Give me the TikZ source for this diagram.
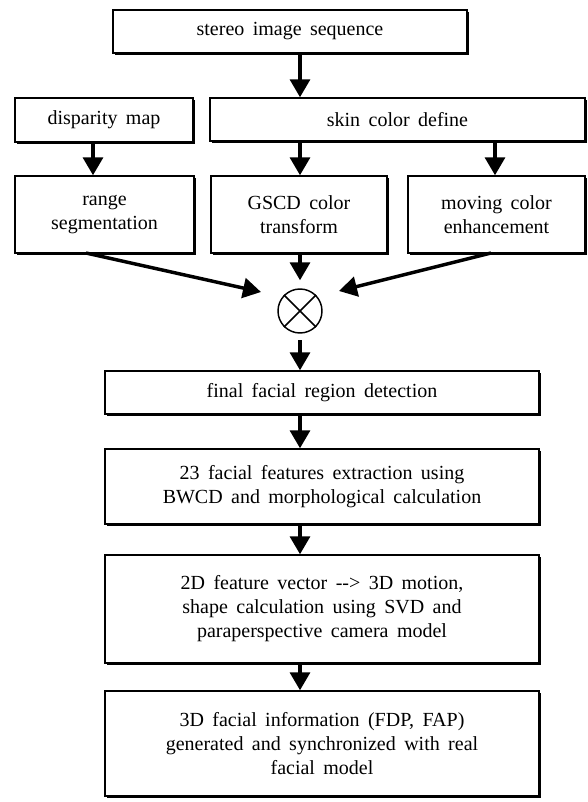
\documentclass[tikz,border=0pt]{standalone}
\usepackage{fontspec}
\setmainfont{Liberation Serif}
\usetikzlibrary{arrows.meta,shadows}
\newcommand\boxfont{\fontsize{15}{18}\selectfont\spaceskip=0.42em plus 0.1em\relax}
\tikzset{
  box/.style={draw, line width=1.1pt, fill=white, rectangle, align=center, inner sep=2pt,
    drop shadow={shadow xshift=1.8pt, shadow yshift=-1.8pt, fill=black, opacity=1},
    font=\boxfont},
  flow/.style={line width=2.6pt, -{Triangle[width=15pt,length=13.5pt]}},
  mulnode/.style={draw, circle, line width=1.1pt, minimum size=33pt, inner sep=0pt}
}
\begin{document}
\begin{tikzpicture}[x=0.75pt,y=-0.75pt]
\useasboundingbox[fill=white] (0,0) rectangle (588,802);
% top
\node[box, minimum width=265.5pt, minimum height=32.25pt] (stereo) at (290,31.5) {stereo image sequence};
\node[box, minimum width=133.5pt, minimum height=33pt] (disp) at (104,120) {disparity map};
\node[box, minimum width=281.25pt, minimum height=32.25pt] (skin) at (397.5,119.5) {skin color define};
% second row
\node[box, minimum width=134.25pt, minimum height=57.75pt] (range) at (104.5,214.5) {range\\segmentation};
\node[box, minimum width=132pt, minimum height=57.75pt] (gscd) at (299,214.5) {GSCD color\\transform};
\node[box, minimum width=132.75pt, minimum height=57.75pt] (moving) at (496.5,214.5) {moving color\\enhancement};
% combiner
\node[mulnode] (mul) at (300,311) {};
\draw[line width=1.1pt] (mul.north west) -- (mul.south east) (mul.north east) -- (mul.south west);
% central column
\node[box, minimum width=325.5pt, minimum height=32.25pt] (final) at (322,392.5) {final facial region detection};
\node[box, minimum width=325.5pt, minimum height=56.25pt] (feat) at (322,486.5) {23 facial features extraction using\\BWCD and morphological calculation};
\node[box, minimum width=325.5pt, minimum height=81pt] (motion) at (322,609) {2D feature vector -{}-{}> 3D motion,\\shape calculation using SVD and\\paraperspective camera model};
\node[box, minimum width=325.5pt, minimum height=78.75pt] (info) at (322,743.5) {3D facial information (FDP, FAP)\\generated and synchronized with real\\facial model};
% helper coordinates
\coordinate (cx) at (300,0);
\coordinate (lx) at (93,0);
\coordinate (rx) at (495,0);
\coordinate (lstart) at (86,253);
\coordinate (ltip) at (261,292);
\coordinate (rstart) at (491,253);
\coordinate (rtip) at (339,291);
% arrows
\draw[flow] (stereo.south -| cx) -- (skin.north -| cx);
\draw[flow] (disp.south -| lx) -- (range.north -| lx);
\draw[flow] (skin.south -| cx) -- (gscd.north -| cx);
\draw[flow] (skin.south -| rx) -- (moving.north -| rx);
\draw[flow] (lstart) -- (ltip);
\draw[flow] (rstart) -- (rtip);
\draw[flow, shorten >=6pt] (gscd.south -| cx) -- (mul.north);
\draw[flow, shorten <=5pt] (mul.south) -- (final.north -| cx);
\draw[flow] (final.south -| cx) -- (feat.north -| cx);
\draw[flow] (feat.south -| cx) -- (motion.north -| cx);
\draw[flow] (motion.south -| cx) -- (info.north -| cx);
\end{tikzpicture}
\end{document}
